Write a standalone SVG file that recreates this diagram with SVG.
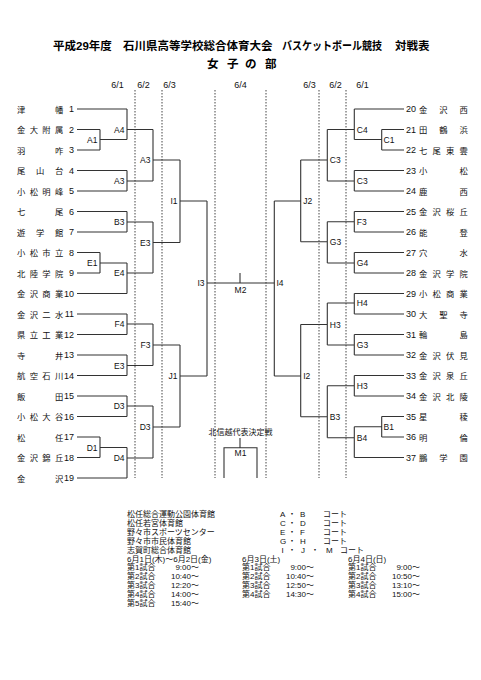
<svg xmlns="http://www.w3.org/2000/svg" width="481" height="680" viewBox="0 0 481 680">
<style>
.ln{fill:none;stroke:#333;stroke-width:1.1}
.dot{fill:none;stroke:#444;stroke-width:1;stroke-dasharray:1.5 1.5}
.nm{font-family:"Noto Sans CJK JP",sans-serif;font-size:8.3px;fill:#111}
.no{font-family:"Liberation Sans",sans-serif;font-size:9px;fill:#111}
.noL{text-anchor:end}
.lb{font-family:"Liberation Sans",sans-serif;font-size:8.5px;fill:#111}
.lbL{text-anchor:end}
.mid{text-anchor:middle}
.ttl{font-family:"Liberation Sans","Noto Sans CJK JP",sans-serif;font-size:11.5px;font-weight:bold;fill:#000}
.dt{font-family:"Liberation Sans",sans-serif;font-size:9px;fill:#111;text-anchor:middle}
.bt{font-family:"Liberation Sans","Noto Sans CJK JP",sans-serif;font-size:8px;fill:#111}
.tm{text-anchor:end}
</style>
<rect width="481" height="680" fill="#fff"/>
<g id="title">
<text class="ttl" y="50"><tspan x="53">平成29年度</tspan><tspan x="123">石川県高等学校総合体育大会</tspan><tspan x="282" textLength="100" lengthAdjust="spacingAndGlyphs">バスケットボール競技</tspan><tspan x="395">対戦表</tspan></text>
<text class="ttl" x="207 227 245 265" y="68">女子の部</text>
</g>
<g id="dates">
<text class="dt" x="117.5" y="88">6/1</text>
<text class="dt" x="143.5" y="88">6/2</text>
<text class="dt" x="169.5" y="88">6/3</text>
<text class="dt" x="240.5" y="88">6/4</text>
<text class="dt" x="309.5" y="88">6/3</text>
<text class="dt" x="335.5" y="88">6/2</text>
<text class="dt" x="362.5" y="88">6/1</text>
</g>
<g id="connectors">
<path class="dot" d="M135 90V478M162 90V478M215 90V478M266 90V478M319 90V478M346 90V478"/>
<path class="ln" d="M77 109H127M77 129.5H100M77 150H100M77 170.5H127M77 191H127M77 211.5H127M77 232H127M77 252.5H100M77 273H100M77 293.5H127M77 314H127M77 334.5H127M77 355H127M77 375.5H127M77 396H127M77 416.5H127M77 437H100M77 457.5H100M77 478H127"/>
<path class="ln" d="M100 129.5V150M100 139.5H127M100 252.5V273M100 263H127M100 437V457.5M100 447.5H127"/>
<path class="ln" d="M127 109V139.5M127 129.5H153M127 170.5V191M127 181H153M127 211.5V232M127 222H153M127 263V293.5M127 273H153M127 314V334.5M127 324H153M127 355V375.5M127 365.5H153M127 396V416.5M127 406H153M127 447.5V478M127 458H153"/>
<path class="ln" d="M153 129.5V181M153 160H180M153 222V273M153 242.5H180M153 324V365.5M153 345H180M153 406V458M153 427H180"/>
<path class="ln" d="M180 160V242.5M180 201H207M180 345V427M180 376H207M207 201V376M207 283H274.3"/>
<path class="ln" d="M404 109H354.3M404 129.5H381.7M404 150H381.7M404 170.5H354.3M404 191H354.3M404 211.5H354.3M404 232H354.3M404 252.5H354.3M404 273H354.3M404 293.5H354.3M404 314H354.3M404 334.5H354.3M404 355H354.3M404 375.5H354.3M404 396H354.3M404 416.5H381.7M404 437H381.7M404 457.5H354.3"/>
<path class="ln" d="M381.7 129.5V150M381.7 139.5H354.3M381.7 416.5V437M381.7 426.7H354.3"/>
<path class="ln" d="M354.3 109V139.5M354.3 129.5H327.3M354.3 170.5V191M354.3 181H327.3M354.3 211.5V232M354.3 221.7H327.3M354.3 252.5V273M354.3 263H327.3M354.3 293.5V314M354.3 303H327.3M354.3 334.5V355M354.3 345H327.3M354.3 375.5V396M354.3 385.7H327.3M354.3 426.7V457.5M354.3 437.7H327.3"/>
<path class="ln" d="M327.3 129.5V181M327.3 160H300.7M327.3 221.7V263M327.3 241.7H300.7M327.3 303V345M327.3 324.5H300.7M327.3 385.7V437.7M327.3 416.7H300.7"/>
<path class="ln" d="M300.7 160V241.7M300.7 201H274.3M300.7 324.5V416.7M300.7 376H274.3M274.3 201V376"/>
<path class="ln" d="M240 273V283"/>
<path class="ln" d="M240 438V447.7M224 478V447.7H257V478"/>
</g>
<g id="team-1"><text class="nm" x="17 55" y="112.5">津幡</text><text class="no noL" x="74" y="112.2">1</text></g>
<g id="team-2"><text class="nm" x="17 29.7 42.3 55" y="133">金大附属</text><text class="no noL" x="74" y="132.7">2</text></g>
<g id="team-3"><text class="nm" x="17 55" y="153.5">羽咋</text><text class="no noL" x="74" y="153.2">3</text></g>
<g id="team-4"><text class="nm" x="17 36 55" y="174">尾山台</text><text class="no noL" x="74" y="173.7">4</text></g>
<g id="team-5"><text class="nm" x="17 29.7 42.3 55" y="194.5">小松明峰</text><text class="no noL" x="74" y="194.2">5</text></g>
<g id="team-6"><text class="nm" x="17 55" y="215">七尾</text><text class="no noL" x="74" y="214.7">6</text></g>
<g id="team-7"><text class="nm" x="17 36 55" y="235.5">遊学館</text><text class="no noL" x="74" y="235.2">7</text></g>
<g id="team-8"><text class="nm" x="17 29.7 42.3 55" y="256">小松市立</text><text class="no noL" x="74" y="255.7">8</text></g>
<g id="team-9"><text class="nm" x="17 29.7 42.3 55" y="276.5">北陸学院</text><text class="no noL" x="74" y="276.2">9</text></g>
<g id="team-10"><text class="nm" x="17 29.7 42.3 55" y="297">金沢商業</text><text class="no noL" x="74" y="296.7">10</text></g>
<g id="team-11"><text class="nm" x="17 29.7 42.3 55" y="317.5">金沢二水</text><text class="no noL" x="74" y="317.2">11</text></g>
<g id="team-12"><text class="nm" x="17 29.7 42.3 55" y="338">県立工業</text><text class="no noL" x="74" y="337.7">12</text></g>
<g id="team-13"><text class="nm" x="17 55" y="358.5">寺井</text><text class="no noL" x="74" y="358.2">13</text></g>
<g id="team-14"><text class="nm" x="17 29.7 42.3 55" y="379">航空石川</text><text class="no noL" x="74" y="378.7">14</text></g>
<g id="team-15"><text class="nm" x="17 55" y="399.5">飯田</text><text class="no noL" x="74" y="399.2">15</text></g>
<g id="team-16"><text class="nm" x="17 29.7 42.3 55" y="420">小松大谷</text><text class="no noL" x="74" y="419.7">16</text></g>
<g id="team-17"><text class="nm" x="17 55" y="440.5">松任</text><text class="no noL" x="74" y="440.2">17</text></g>
<g id="team-18"><text class="nm" x="17 29.7 42.3 55" y="461">金沢錦丘</text><text class="no noL" x="74" y="460.7">18</text></g>
<g id="team-19"><text class="nm" x="17 55" y="481.5">金沢</text><text class="no noL" x="74" y="481.2">19</text></g>
<g id="team-20"><text class="no" x="406" y="112.2">20</text><text class="nm" x="419 439.25 459.5" y="112.5">金沢西</text></g>
<g id="team-21"><text class="no" x="406" y="132.7">21</text><text class="nm" x="419 439.25 459.5" y="133">田鶴浜</text></g>
<g id="team-22"><text class="no" x="406" y="153.2">22</text><text class="nm" x="419 432.5 446 459.5" y="153.5">七尾東雲</text></g>
<g id="team-23"><text class="no" x="406" y="173.7">23</text><text class="nm" x="419 459.5" y="174">小松</text></g>
<g id="team-24"><text class="no" x="406" y="194.2">24</text><text class="nm" x="419 459.5" y="194.5">鹿西</text></g>
<g id="team-25"><text class="no" x="406" y="214.7">25</text><text class="nm" x="419 432.5 446 459.5" y="215">金沢桜丘</text></g>
<g id="team-26"><text class="no" x="406" y="235.2">26</text><text class="nm" x="419 459.5" y="235.5">能登</text></g>
<g id="team-27"><text class="no" x="406" y="255.7">27</text><text class="nm" x="419 459.5" y="256">穴水</text></g>
<g id="team-28"><text class="no" x="406" y="276.2">28</text><text class="nm" x="419 432.5 446 459.5" y="276.5">金沢学院</text></g>
<g id="team-29"><text class="no" x="406" y="296.7">29</text><text class="nm" x="419 432.5 446 459.5" y="297">小松商業</text></g>
<g id="team-30"><text class="no" x="406" y="317.2">30</text><text class="nm" x="419 439.25 459.5" y="317.5">大聖寺</text></g>
<g id="team-31"><text class="no" x="406" y="337.7">31</text><text class="nm" x="419 459.5" y="338">輪島</text></g>
<g id="team-32"><text class="no" x="406" y="358.2">32</text><text class="nm" x="419 432.5 446 459.5" y="358.5">金沢伏見</text></g>
<g id="team-33"><text class="no" x="406" y="378.7">33</text><text class="nm" x="419 432.5 446 459.5" y="379">金沢泉丘</text></g>
<g id="team-34"><text class="no" x="406" y="399.2">34</text><text class="nm" x="419 432.5 446 459.5" y="399.5">金沢北陵</text></g>
<g id="team-35"><text class="no" x="406" y="419.7">35</text><text class="nm" x="419 459.5" y="420">星稜</text></g>
<g id="team-36"><text class="no" x="406" y="440.2">36</text><text class="nm" x="419 459.5" y="440.5">明倫</text></g>
<g id="team-37"><text class="no" x="406" y="460.7">37</text><text class="nm" x="419 439.25 459.5" y="461">鵬学園</text></g>
<g id="match-A1"><text class="lb lbL" x="97.5" y="142.5">A1</text></g>
<g id="match-E1"><text class="lb lbL" x="97.5" y="266">E1</text></g>
<g id="match-D1"><text class="lb lbL" x="97.5" y="450.5">D1</text></g>
<g id="match-A4"><text class="lb lbL" x="124.5" y="132.5">A4</text></g>
<g id="match-A3a"><text class="lb lbL" x="124.5" y="184">A3</text></g>
<g id="match-B3a"><text class="lb lbL" x="124.5" y="225">B3</text></g>
<g id="match-E4"><text class="lb lbL" x="124.5" y="276">E4</text></g>
<g id="match-F4"><text class="lb lbL" x="124.5" y="327">F4</text></g>
<g id="match-E3a"><text class="lb lbL" x="124.5" y="368.5">E3</text></g>
<g id="match-D3a"><text class="lb lbL" x="124.5" y="409">D3</text></g>
<g id="match-D4"><text class="lb lbL" x="124.5" y="461">D4</text></g>
<g id="match-A3b"><text class="lb lbL" x="150.5" y="163">A3</text></g>
<g id="match-E3b"><text class="lb lbL" x="150.5" y="245.5">E3</text></g>
<g id="match-F3a"><text class="lb lbL" x="150.5" y="348">F3</text></g>
<g id="match-D3b"><text class="lb lbL" x="150.5" y="430">D3</text></g>
<g id="match-I1"><text class="lb lbL" x="177.5" y="204">I1</text></g>
<g id="match-J1"><text class="lb lbL" x="177.5" y="379">J1</text></g>
<g id="match-I3"><text class="lb lbL" x="204.5" y="286">I3</text></g>
<g id="match-C1"><text class="lb" x="383.5" y="142.5">C1</text></g>
<g id="match-B1"><text class="lb" x="383.5" y="429.7">B1</text></g>
<g id="match-C4"><text class="lb" x="356.8" y="132.5">C4</text></g>
<g id="match-C3a"><text class="lb" x="356.8" y="184">C3</text></g>
<g id="match-F3b"><text class="lb" x="356.8" y="224.7">F3</text></g>
<g id="match-G4"><text class="lb" x="356.8" y="266">G4</text></g>
<g id="match-H4"><text class="lb" x="356.8" y="306">H4</text></g>
<g id="match-G3a"><text class="lb" x="356.8" y="348">G3</text></g>
<g id="match-H3a"><text class="lb" x="356.8" y="388.7">H3</text></g>
<g id="match-B4"><text class="lb" x="356.8" y="440.7">B4</text></g>
<g id="match-C3b"><text class="lb" x="329.8" y="163">C3</text></g>
<g id="match-G3b"><text class="lb" x="329.8" y="244.7">G3</text></g>
<g id="match-H3b"><text class="lb" x="329.8" y="327.5">H3</text></g>
<g id="match-B3b"><text class="lb" x="329.8" y="419.7">B3</text></g>
<g id="match-J2"><text class="lb" x="303.2" y="204">J2</text></g>
<g id="match-I2"><text class="lb" x="303.2" y="379">I2</text></g>
<g id="match-I4"><text class="lb" x="276.5" y="286">I4</text></g>
<g id="match-M2"><text class="lb mid" x="240.5" y="292.5">M2</text></g>
<g id="match-M1"><text class="bt mid" x="240.5" y="435">北信越代表決定戦</text><text class="lb mid" x="240.5" y="456">M1</text></g>
<g id="venues">
<text class="bt" x="127" y="517">松任総合運動公園体育館</text>
<text class="bt" x="127" y="525.9">松任若宮体育館</text>
<text class="bt" x="127" y="534.8">野々市スポーツセンター</text>
<text class="bt" x="127" y="543.7">野々市市民体育館</text>
<text class="bt" x="127" y="552.6">志賀町総合体育館</text>
<text class="bt" y="517"><tspan x="280">A</tspan><tspan x="288">・</tspan><tspan x="300">B</tspan><tspan x="323">コート</tspan></text>
<text class="bt" y="525.9"><tspan x="280">C</tspan><tspan x="288">・</tspan><tspan x="300">D</tspan><tspan x="323">コート</tspan></text>
<text class="bt" y="534.8"><tspan x="280">E</tspan><tspan x="288">・</tspan><tspan x="300">F</tspan><tspan x="323">コート</tspan></text>
<text class="bt" y="543.7"><tspan x="280">G</tspan><tspan x="288">・</tspan><tspan x="300">H</tspan><tspan x="323">コート</tspan></text>
<text class="bt" y="552.6"><tspan x="281.5">I</tspan><tspan x="288">・</tspan><tspan x="301">J</tspan><tspan x="311">・</tspan><tspan x="326">M</tspan><tspan x="340">コート</tspan></text>
</g>
<g id="schedule">
<text class="bt" x="127" y="561.5">6月1日(木)～6月2日(金)</text>
<text class="bt" x="127" y="570.4">第1試合</text><text class="bt tm" x="199" y="570.4">9:00～</text>
<text class="bt" x="127" y="579.3">第2試合</text><text class="bt tm" x="199" y="579.3">10:40～</text>
<text class="bt" x="127" y="588.2">第3試合</text><text class="bt tm" x="199" y="588.2">12:20～</text>
<text class="bt" x="127" y="597.1">第4試合</text><text class="bt tm" x="199" y="597.1">14:00～</text>
<text class="bt" x="127" y="606">第5試合</text><text class="bt tm" x="199" y="606">15:40～</text>
<text class="bt" x="242" y="561.5">6月3日(土)</text>
<text class="bt" x="242" y="570.4">第1試合</text><text class="bt tm" x="314" y="570.4">9:00～</text>
<text class="bt" x="242" y="579.3">第2試合</text><text class="bt tm" x="314" y="579.3">10:40～</text>
<text class="bt" x="242" y="588.2">第3試合</text><text class="bt tm" x="314" y="588.2">12:50～</text>
<text class="bt" x="242" y="597.1">第4試合</text><text class="bt tm" x="314" y="597.1">14:30～</text>
<text class="bt" x="348" y="561.5">6月4日(日)</text>
<text class="bt" x="348" y="570.4">第1試合</text><text class="bt tm" x="420" y="570.4">9:00～</text>
<text class="bt" x="348" y="579.3">第2試合</text><text class="bt tm" x="420" y="579.3">10:50～</text>
<text class="bt" x="348" y="588.2">第3試合</text><text class="bt tm" x="420" y="588.2">13:10～</text>
<text class="bt" x="348" y="597.1">第4試合</text><text class="bt tm" x="420" y="597.1">15:00～</text>
</g>
</svg>
